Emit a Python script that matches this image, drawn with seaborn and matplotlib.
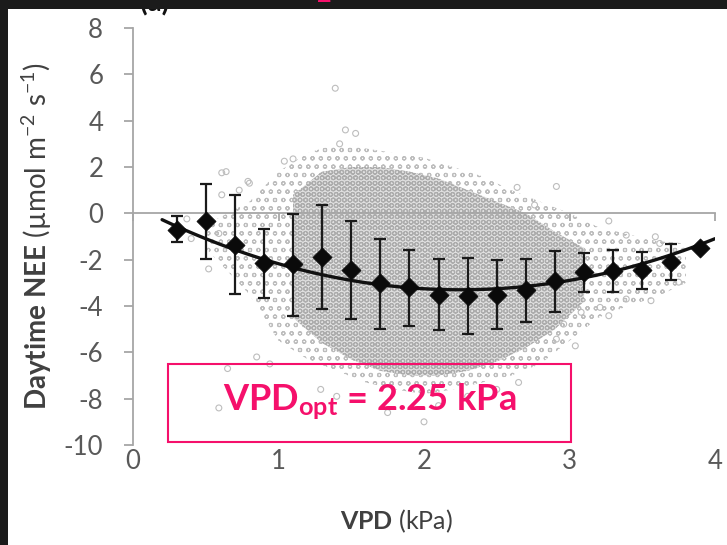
import numpy as np
import pandas as pd
import matplotlib
matplotlib.use("Agg")
import matplotlib.pyplot as plt
from matplotlib.patches import Rectangle
import seaborn as sns

# ---------------- data ----------------
vpd_bins = [0.3, 0.5, 0.7, 0.9, 1.1, 1.3, 1.5, 1.7, 1.9, 2.1, 2.3, 2.5, 2.7, 2.9, 3.1, 3.3, 3.5, 3.7, 3.9]
nee_mean = [-0.70, -0.33, -1.35, -2.14, -2.20, -1.88, -2.43, -3.01, -3.20, -3.51, -3.55, -3.51,
            -3.30, -2.94, -2.54, -2.50, -2.46, -2.10, -1.50]
nee_upper = [-0.10, 1.26, 0.80, -0.68, -0.03, 0.36, -0.32, -1.09, -1.58, -1.98, -1.92, -2.03,
             -1.96, -1.62, -1.70, -1.59, -1.67, -1.34, -1.50]
nee_lower = [-1.25, -1.96, -3.50, -3.65, -4.42, -4.13, -4.56, -5.00, -4.87, -5.03, -5.22, -5.00,
             -4.68, -4.27, -3.40, -3.40, -3.26, -2.87, -1.50]

# quadratic trend line (coefficients), drawn over its range
trend_coef = [0.72, -3.24, 0.345]
trend_range = [0.2, 4.0]

# half-hourly cloud: dense core and sparse fringe envelopes
core_x = [1.1, 1.3, 1.5, 1.7, 1.9, 2.1, 2.3, 2.5, 2.7, 2.9, 3.1]
core_top = [0.8, 1.8, 2.0, 2.0, 1.8, 1.5, 1.0, 0.5, 0.0, -0.8, -1.5]
core_bot = [-4.5, -5.6, -6.3, -6.8, -7.0, -7.0, -6.8, -6.4, -5.8, -5.0, -3.8]
fringe_x = [0.5, 0.8, 1.0, 1.2, 1.4, 1.6, 1.8, 2.0, 2.2, 2.4, 2.6, 2.8, 3.0, 3.2, 3.4, 3.6, 3.8]
fringe_top = [-0.5, 0.5, 1.8, 2.6, 3.0, 2.8, 2.6, 2.4, 2.0, 1.6, 1.0, 0.5, 0.0, -0.6, -0.9, -1.2, -1.3]
fringe_bot = [-1.5, -3.5, -5.5, -6.3, -6.8, -7.3, -7.6, -7.8, -7.6, -7.3, -7.0, -6.5, -5.5, -4.5,
              -4.0, -3.6, -3.0]
# isolated points outside the cloud
out_x = [1.39, 1.46, 1.53, 1.42, 0.61, 0.64, 0.61, 0.80, 0.73, 1.04, 1.10, 0.65, 0.59, 0.85, 0.94,
         1.29, 1.40, 0.52, 0.40, 0.37, 0.59, 0.79, 2.91, 2.64, 2.76, 3.27, 3.39, 3.59, 3.62, 3.39,
         3.56, 3.27, 3.21, 3.04, 2.91, 3.75, 2.96, 3.08, 2.30, 2.50, 2.65, 2.10, 1.75, 2.00]
out_y = [5.4, 3.6, 3.45, 3.0, 1.75, 1.8, 0.8, 1.3, 1.0, 2.25, 2.35, -6.7, -8.4, -6.2, -6.5,
         -7.6, -7.9, -2.4, -1.09, -0.24, -0.87, 1.38, 1.16, 1.12, 0.36, -0.33, -0.94, -1.01, -1.3, -3.7,
         -3.77, -4.42, -4.06, -5.72, -5.43, -2.97, -4.78, -4.27, -7.9, -7.6, -7.3, -8.3, -8.6, -9.0]

x_ticks = [0, 1, 2, 3, 4]
y_ticks = [-10, -8, -6, -4, -2, 0, 2, 4, 6, 8]
annot_text = "VPD$_{\\mathbf{opt}}$ = 2.25 kPa"
annot_box = [0.24, -9.88, 3.01, -6.52]  # x0, y0, x1, y1

# ---------------- style ----------------
sns.set_style("white")
plt.rcParams["font.family"] = ["Lato", "DejaVu Sans"]
plt.rcParams["mathtext.fontset"] = "custom"
plt.rcParams["mathtext.rm"] = "Lato"
plt.rcParams["mathtext.bf"] = "Lato:bold"
plt.rcParams["mathtext.it"] = "Lato:italic"
plt.rcParams["hatch.linewidth"] = 0.8
plt.rcParams["axes.unicode_minus"] = False

GRAY_AX = "#a6a6a6"
TICK_TXT = "#595959"
PINK = "#f5106b"
DARK = "#1b1b1b"

fig = plt.figure(figsize=(7.27, 5.45), dpi=100, facecolor="white")
# dark slide background visible along the top and left edges
fig.patches.append(Rectangle((0, 1 - 9 / 545), 1, 9 / 545, transform=fig.transFigure,
                             facecolor=DARK, edgecolor="none", zorder=-10))
fig.patches.append(Rectangle((0, 0), 8 / 727, 1, transform=fig.transFigure,
                             facecolor=DARK, edgecolor="none", zorder=-10))

ax = fig.add_axes([133 / 727, 1 - 445 / 545, 582 / 727, 417 / 545])
ax.set_facecolor("none")

# cloud
ax.fill_between(fringe_x, fringe_bot, fringe_top, facecolor="none", edgecolor="#bdbdbd",
                hatch="oo", linewidth=0, zorder=1)
ax.fill_between(core_x, core_bot, core_top, facecolor="#e0e0e0", edgecolor="#acacac",
                hatch="OOO", linewidth=0, zorder=1)
pts = pd.DataFrame({"vpd": out_x, "nee": out_y})
sns.scatterplot(data=pts, x="vpd", y="nee", ax=ax, s=18, facecolor="none",
                edgecolor="#bdbdbd", linewidth=0.8, zorder=2)

# bin means with error bars
df = pd.DataFrame({"vpd": vpd_bins, "nee": nee_mean, "up": nee_upper, "lo": nee_lower})
yerr = np.vstack([df["nee"] - df["lo"], df["up"] - df["nee"]])
ax.errorbar(df["vpd"], df["nee"], yerr=yerr, fmt="none", ecolor="#1a1a1a", elinewidth=1.6,
            capsize=4.5, capthick=1.6, zorder=4)

# trend line
tx = np.linspace(trend_range[0], trend_range[1], 100)
trend = pd.DataFrame({"vpd": tx, "nee": np.polyval(trend_coef, tx)})
sns.lineplot(data=trend, x="vpd", y="nee", ax=ax, color="#111111", linewidth=2.4, zorder=5)

sns.scatterplot(data=df, x="vpd", y="nee", ax=ax, marker="D", s=95, color="#0a0a0a",
                edgecolor="#0a0a0a", linewidth=0.5, zorder=6)

# axes styling
ax.set_xlim(0, 4)
ax.set_ylim(-10, 8)
ax.set_yticks(y_ticks)
ax.set_xticks(x_ticks)
for s in ["top", "right"]:
    ax.spines[s].set_visible(False)
ax.spines["left"].set_color(GRAY_AX)
ax.spines["left"].set_linewidth(1.3)
ax.spines["bottom"].set_position(("data", 0))
ax.spines["bottom"].set_color(GRAY_AX)
ax.spines["bottom"].set_linewidth(1.3)
ax.spines["bottom"].set_zorder(3)
ax.tick_params(axis="y", direction="out", length=6.5, width=1.3, color=GRAY_AX, pad=15,
               labelsize=18.5, labelcolor=TICK_TXT, left=True)
ax.tick_params(axis="x", direction="out", length=6, width=1.3, color=GRAY_AX,
               labelbottom=False, bottom=True)
ax.set_xlabel("$\\mathbf{VPD}$ (kPa)", fontsize=18, color="#404040")
ax.xaxis.set_label_coords(0.452, -0.15)
ax.set_ylabel("$\\mathbf{Daytime\\ NEE}$ (µmol m$^{-2}$ s$^{-1}$)", fontsize=20, color="#404040")
ax.yaxis.set_label_coords(-0.135, 0.5)

sec = ax.secondary_xaxis(0.0)
sec.set_xticks(x_ticks)
sec.spines["bottom"].set_visible(False)
sec.tick_params(axis="x", length=0, pad=3, labelsize=18.5, labelcolor=TICK_TXT)

# annotation box
ax.add_patch(Rectangle((annot_box[0], annot_box[1]), annot_box[2] - annot_box[0],
                       annot_box[3] - annot_box[1], facecolor="none", edgecolor=PINK,
                       linewidth=1.5, zorder=7))
ax.text((annot_box[0] + annot_box[2]) / 2, (annot_box[1] + annot_box[3]) / 2 + 0.05, annot_text,
        ha="center", va="center", fontsize=26, fontweight="bold", color=PINK, zorder=8)

# partially visible slide text at the top (mostly hidden under the dark strip)
fig.text(140 / 727, 1 - 16 / 545, "(a)", fontsize=20, fontweight="bold", color="#111111",
         ha="left", va="bottom", zorder=-20)
fig.text(324 / 727, 1 - 6 / 545, "2", fontsize=18, fontweight="bold", color=PINK,
         ha="center", va="bottom")

fig.savefig("out.png", dpi=100, facecolor=fig.get_facecolor())
